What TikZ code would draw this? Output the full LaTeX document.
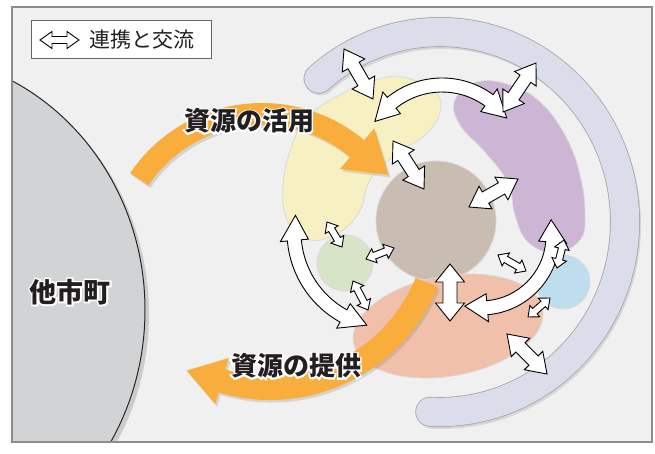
\documentclass[tikz,border=0pt]{standalone}
\usepackage{fontspec}
\setmainfont{Noto Sans CJK JP}
\usetikzlibrary{calc,shadows}
\definecolor{framebg}{HTML}{F0F0F1}
\definecolor{towngray}{HTML}{D2D3D5}
\definecolor{ringcol}{HTML}{DCDDEA}
\definecolor{yelcol}{HTML}{F7F0C3}
\definecolor{purcol}{HTML}{CDB5D5}
\definecolor{corecol}{HTML}{C9BCB0}
\definecolor{grncol}{HTML}{D7E4C7}
\definecolor{blucol}{HTML}{BEDEF0}
\definecolor{salcol}{HTML}{F0C0AA}
\definecolor{flowcol}{HTML}{F9AD3C}
\definecolor{inkcol}{HTML}{231F20}
\tikzset{
	twoway/.style={fill=white,draw=black,line width=0.9pt,line join=miter},
	blob/.style={draw=black!15,line width=0.8pt},
	flow/.style={fill=flowcol,drop shadow={shadow xshift=2pt,shadow yshift=-2.5pt,opacity=0.25}},
	bigtext/.style={font=\fontsize{26}{26}\selectfont\bfseries,text=inkcol,inner sep=0pt}
}
% white rim round a bold label
\newcommand{\halotext}[1]{\rlap{\color{white}\addfontfeature{FakeBold=12}#1}#1}
% straight double arrow: from, to, shaft half width, head half width, head length
\newcommand{\dblarrow}[5]{
	\draw[twoway] let \p1=($(#2)-(#1)$), \n1={veclen(\x1,\y1)}, \n2={atan2(\y1,\x1)} in
		(#1) -- ($(#1)+(\n2:#5)+(\n2+90:#4)$) -- ($(#1)+(\n2:#5)+(\n2+90:#3)$)
		-- ($(#1)+(\n2:\n1-#5)+(\n2+90:#3)$) -- ($(#1)+(\n2:\n1-#5)+(\n2+90:#4)$)
		-- (#2) -- ($(#1)+(\n2:\n1-#5)+(\n2-90:#4)$) -- ($(#1)+(\n2:\n1-#5)+(\n2-90:#3)$)
		-- ($(#1)+(\n2:#5)+(\n2-90:#3)$) -- ($(#1)+(\n2:#5)+(\n2-90:#4)$) -- cycle;
}
% curved double arrow: centre, radius, tip, base, base, tip
\newcommand{\arcarrow}[6]{
	\pgfmathsetmacro\arcIn{#2-7}\pgfmathsetmacro\arcOut{#2+7}
	\pgfmathsetmacro\headIn{#2-14}\pgfmathsetmacro\headOut{#2+14}
	\draw[twoway] ($(#1)+(#3:#2)$) -- ($(#1)+(#4:\headOut)$) -- ($(#1)+(#4:\arcOut)$)
		arc[start angle=#4,end angle=#5,radius=\arcOut] -- ($(#1)+(#5:\headOut)$)
		-- ($(#1)+(#6:#2)$) -- ($(#1)+(#5:\headIn)$) -- ($(#1)+(#5:\arcIn)$)
		arc[start angle=#5,end angle=#4,radius=\arcIn] -- ($(#1)+(#4:\headIn)$) -- cycle;
}

\begin{document}
\begin{tikzpicture}[x=1pt,y=1pt]
	\useasboundingbox (0,0) rectangle (655,454);
	%FRAME
	\fill[framebg] (12,12) rectangle (652,447);
	%OTHER TOWNS
	\begin{scope}
		\clip (12,12) rectangle (652,447);
		\fill[black,opacity=0.15] (-91,140) ellipse[x radius=240,y radius=256];
		\draw[fill=towngray,draw=black!85,line width=1pt] (-95,144) ellipse[x radius=240,y radius=256];
	\end{scope}
	\draw[draw=black!45,line width=1.5pt] (12,12) rectangle (652,447);
	%RING
	\coordinate (ring) at (440,232);
	\draw[line width=28pt,black,opacity=0.1,line cap=round] ($(ring)+(2,-3)+(131:185 and 190)$) arc[start angle=131,end angle=-93,x radius=185,y radius=190];
	\draw[line width=30pt,black!35,line cap=round] ($(ring)+(131:185 and 190)$) arc[start angle=131,end angle=-93,x radius=185,y radius=190];
	\draw[line width=28.4pt,ringcol,line cap=round] ($(ring)+(131:185 and 190)$) arc[start angle=131,end angle=-93,x radius=185,y radius=190];
	%AREAS
	\draw[blob,fill=yelcol] plot[smooth cycle,tension=0.7] coordinates {(403,377) (435,362) (440,342) (425,319) (395,299) (370,274) (360,244) (340,222) (310,214) (288,232) (283,267) (292,309) (310,339) (345,362) (375,374)};
	\draw[blob,fill=purcol] plot[smooth cycle,tension=0.7] coordinates {(477,372) (510,369) (540,352) (565,319) (580,279) (585,239) (580,214) (555,201) (528,212) (515,239) (508,271) (485,302) (460,329) (455,354)};
	\coordinate (core) at (436,233);
	\coordinate (grn) at (345,191);
	\coordinate (sal) at (448,128);
	\coordinate (blu) at (563,172);
	\draw[blob,fill=corecol] (core) circle[radius=60];
	\draw[blob,fill=grncol] (grn) circle[radius=28];
	\draw[blob,fill=salcol] (sal) ellipse[x radius=96,y radius=50,rotate=10];
	\draw[blob,fill=blucol] (blu) circle[radius=27];
	%FLOWS
	\coordinate (use-c) at (262,192);
	\coordinate (give-c) at (270,235);
	\fill[flow] ($(use-c)+(146:159)$) arc[start angle=146,end angle=50,radius=159] -- ($(use-c)+(50:174.5)$)
		-- ($(use-c)+(50:148)+(-40:41)$) -- ($(use-c)+(50:121.5)$) -- ($(use-c)+(50:137)$)
		arc[start angle=50,end angle=146,radius=137] -- cycle;
	\fill[flow] ($(give-c)+(-22:181)$) arc[start angle=-22,end angle=-106.5,radius=181] -- ($(give-c)+(-106.5:193)$)
		-- ($(give-c)+(-106.5:169)+(163.5:37)$) -- ($(give-c)+(-106.5:145)$) -- ($(give-c)+(-106.5:157)$)
		arc[start angle=-106.5,end angle=-22,radius=157] -- cycle;
	%LINKS
	\coordinate (ring-yel) at (344,405); \coordinate (yel-ring) at (373,355);
	\coordinate (ring-pur) at (536,391); \coordinate (pur-ring) at (503,342);
	\coordinate (yel-core) at (393,313); \coordinate (core-yel) at (424,265);
	\coordinate (core-pur) at (469,247); \coordinate (pur-core) at (518,275);
	\coordinate (sal-ring) at (507,120); \coordinate (ring-sal) at (547,80);
	\coordinate (yel-grn) at (327,232); \coordinate (grn-yel) at (342,207);
	\coordinate (grn-core) at (366,195); \coordinate (core-grn) at (394,206);
	\coordinate (grn-sal) at (353,173); \coordinate (sal-grn) at (368,144);
	\coordinate (core-blu) at (498,199); \coordinate (blu-core) at (526,183);
	\coordinate (pur-blu) at (564,214); \coordinate (blu-pur) at (557,186);
	\coordinate (blu-sal) at (550,156); \coordinate (sal-blu) at (528,137);
	\coordinate (core-sal) at (450,190); \coordinate (sal-core) at (450,133);
	\coordinate (yel-pur) at (442,289);
	\coordinate (yel-sal) at (390,222);
	\coordinate (pur-sal) at (481,218);
	\arcarrow{yel-pur}{80}{147}{129}{54}{36}
	\arcarrow{yel-sal}{96}{170}{185}{241}{256}
	\arcarrow{pur-sal}{72}{13}{-5}{-85}{-103}
	\foreach \a/\b in {ring-yel/yel-ring,ring-pur/pur-ring,yel-core/core-yel,core-pur/pur-core,sal-ring/ring-sal}
		\dblarrow{\a}{\b}{6.5}{13}{19};
	\foreach \a/\b in {yel-grn/grn-yel,grn-core/core-grn,grn-sal/sal-grn,core-blu/blu-core,pur-blu/blu-pur,blu-sal/sal-blu}
		\dblarrow{\a}{\b}{3.5}{7.5}{9};
	\dblarrow{core-sal}{sal-core}{7}{14.5}{18}
	%TEXT
	\node[bigtext] (use) at (249,333) {\halotext{資源の活用}};
	\node[bigtext] (give) at (296,88) {\halotext{資源の提供}};
	\node[bigtext,font=\fontsize{27}{27}\selectfont\bfseries] (town) at (70,162) {\halotext{他市町}};
	%LEGEND
	\draw[fill=white,draw=black!60,line width=1pt] (31,395) rectangle (211,433);
	\coordinate (leg-l) at (40,414); \coordinate (leg-r) at (79,414);
	\dblarrow{leg-l}{leg-r}{3.5}{8.5}{12}
	\node[font=\fontsize{21}{21}\selectfont,text=inkcol,anchor=west] (legend) at (86,414) {連携と交流};
\end{tikzpicture}
\end{document}
